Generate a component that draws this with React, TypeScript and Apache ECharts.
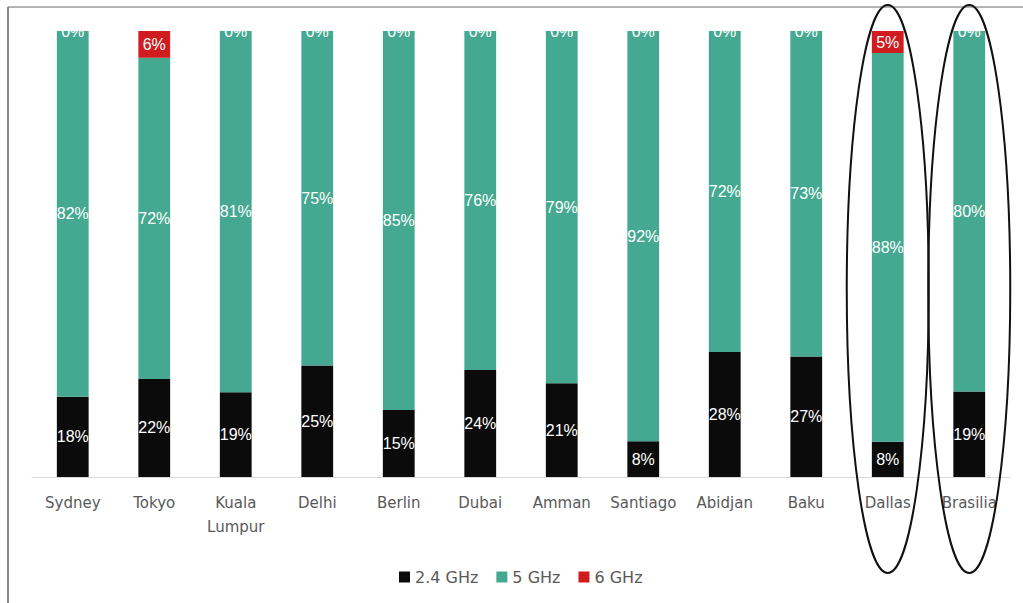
import React, { useEffect, useRef } from "react";
import * as echarts from "echarts";

const cities = ["Sydney", "Tokyo", "Kuala\nLumpur", "Delhi", "Berlin", "Dubai", "Amman", "Santiago", "Abidjan", "Baku", "Dallas", "Brasilia"];
const ghz24 = [18, 22, 19, 25, 15, 24, 21, 8, 28, 27, 8, 19];
const ghz5 = [82, 72, 81, 75, 85, 76, 79, 92, 72, 73, 88, 80];
const ghz6 = [0, 6, 0, 0, 0, 0, 0, 0, 0, 0, 5, 0];
const seriesNames = ["2.4 GHz", "5 GHz", "6 GHz"];
const seriesColors = ["#0b0b0b", "#45a991", "#d01c1f"];
const highlighted = ["Dallas", "Brasilia"];

export default function App() {
  const ref = useRef<HTMLDivElement>(null);
  useEffect(() => {
    document.body.style.margin = "0";
    const chart = echarts.init(ref.current!, undefined, { renderer: "svg" });
    const raw = [ghz24, ghz5, ghz6];
    const totals = cities.map((_, i) => ghz24[i] + ghz5[i] + ghz6[i]);
    const series = raw.map((arr, s) => ({
      name: seriesNames[s],
      type: "bar",
      stack: "all",
      barWidth: "39%",
      itemStyle: { color: seriesColors[s] },
      data: arr.map((v, i) => (v / totals[i]) * 100),
      label: {
        show: true,
        position: "inside",
        color: "#ffffff",
        fontFamily: "Liberation Sans",
        fontSize: 16,
        formatter: (p: any) => `${arr[p.dataIndex]}%`,
      },
    }));
    chart.setOption({
      animation: false,
      backgroundColor: "#ffffff",
      grid: { left: 32, right: 13, top: 31, bottom: 126 },
      legend: {
        data: seriesNames,
        left: 394,
        top: 564,
        icon: "rect",
        itemWidth: 11,
        itemHeight: 11,
        itemGap: 18,
        textStyle: { color: "#595959", fontFamily: "DejaVu Sans", fontSize: 16 },
      },
      xAxis: {
        type: "category",
        data: cities,
        axisTick: { show: false },
        axisLine: { lineStyle: { color: "#d9d9d9", width: 1 } },
        axisLabel: {
          interval: 0,
          color: "#595959",
          fontFamily: "DejaVu Sans",
          fontSize: 15,
          lineHeight: 24,
          margin: 14,
        },
      },
      yAxis: { type: "value", min: 0, max: 100, show: false, splitLine: { show: false } },
      series,
    });
    const ellipses = highlighted.map((c) => {
      const cx = chart.convertToPixel({ xAxisIndex: 0 }, c) as number;
      return {
        type: "ellipse",
        shape: { cx, cy: 289, rx: 41, ry: 284 },
        style: { fill: "none", stroke: "#111111", lineWidth: 2 },
        z: 100,
      };
    });
    chart.setOption({
      graphic: [
        { type: "line", shape: { x1: 8, y1: 7, x2: 1023, y2: 7 }, style: { stroke: "#9a9a9a", lineWidth: 1.5 } },
        { type: "line", shape: { x1: 8, y1: 7, x2: 8, y2: 603 }, style: { stroke: "#8a8a8a", lineWidth: 2 } },
        ...ellipses,
      ],
    });
    return () => chart.dispose();
  }, []);
  return <div ref={ref} style={{ width: 1023, height: 603 }} />;
}
